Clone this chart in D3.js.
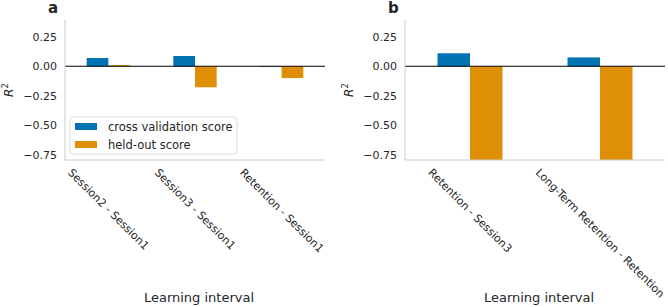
<!DOCTYPE html>
<html>
<head>
<meta charset="utf-8">
<script src="https://cdn.jsdelivr.net/npm/d3@7"></script>
<style>
  body { margin: 0; background: #fff; }
  text { font-family: "DejaVu Sans", sans-serif; fill: #262626; }
</style>
</head>
<body>
<svg width="668" height="307"></svg>
<script>
// panel a
var catsA = ['Session2 - Session1', 'Session3 - Session1', 'Retention - Session1'];
var cvA = [0.07, 0.087, -0.005];
var heldA = [0.01, -0.178, -0.10];

// panel b
var catsB = ['Retention - Session3', 'Long-Term Retention - Retention'];
var cvB = [0.11, 0.075];
var heldB = [-0.9, -0.9];

var yTicks = [0.25, 0, -0.25, -0.5, -0.75];
var seriesNames = ['cross validation score', 'held-out score'];
var colors = ['#0173b2', '#de8f05'];

var svg = d3.select('svg');

function drawPanel(id, left, right, letter, cats, cv, held, showLegend) {
    var top = 20, bottom = 160;
    var g = svg.append('g');

    var xScale = d3.scaleBand().domain(cats).range([left, right]);
    var yScale = d3.scaleLinear().domain([-0.794, 0.392]).range([bottom, top]);
    var bw = xScale.bandwidth() * 0.25;

    g.append('clipPath').attr('id', 'clip' + id)
        .append('rect').attr('x', left).attr('y', top)
        .attr('width', right - left).attr('height', bottom - top);

    var bars = g.append('g').attr('clip-path', 'url(#clip' + id + ')');
    [cv, held].forEach(function(vals, s) {
        bars.selectAll('.s' + s).data(vals).enter().append('rect')
            .attr('x', function(d, i) { return xScale(cats[i]) + xScale.bandwidth() / 2 - bw + s * bw; })
            .attr('y', function(d) { return yScale(Math.max(0, d)); })
            .attr('width', bw)
            .attr('height', function(d) { return Math.abs(yScale(d) - yScale(0)); })
            .style('fill', colors[s]);
    });

    // zero line
    g.append('line')
        .attr('x1', left).attr('x2', right)
        .attr('y1', yScale(0)).attr('y2', yScale(0))
        .style('stroke', '#000').style('stroke-width', 1.2);

    // y axis
    var yAxis = d3.axisLeft(yScale).tickValues(yTicks).tickSize(0).tickPadding(8)
        .tickFormat(function(d) { return d3.format('.2f')(d).replace('-', '\u2212'); });
    var ya = g.append('g').attr('transform', 'translate(' + left + ',0)').call(yAxis);
    ya.select('.domain').remove();
    ya.selectAll('text').style('font-size', '11px').style('fill', '#262626')
        .style('font-family', '"DejaVu Sans", sans-serif');
    g.append('line').attr('x1', left).attr('x2', left).attr('y1', top).attr('y2', bottom)
        .style('stroke', '#cccccc').style('stroke-width', 1);

    // x axis
    g.append('line').attr('x1', left).attr('x2', right).attr('y1', bottom).attr('y2', bottom)
        .style('stroke', '#cccccc').style('stroke-width', 1);

    cats.forEach(function(c) {
        var t = g.append('text').text(c).style('font-size', '11px')
            .attr('text-anchor', 'middle').attr('dominant-baseline', 'central');
        var L = t.node().getComputedTextLength();
        var cx = xScale(c) + xScale.bandwidth() / 2;
        var cy = 167 + (L + 11) * Math.SQRT1_2 / 2;
        t.attr('transform', 'translate(' + cx + ',' + cy + ') rotate(45)');
    });

    g.append('text').text('Learning interval')
        .attr('x', (left + right) / 2 + 4).attr('y', 302)
        .attr('text-anchor', 'middle').style('font-size', '13px');

    // y label
    var yl = g.append('text')
        .attr('transform', 'translate(' + (left - 52) + ',' + ((top + bottom) / 2) + ') rotate(-90)')
        .attr('text-anchor', 'middle').style('font-size', '12px');
    yl.append('tspan').text('R').style('font-style', 'italic');
    yl.append('tspan').text('2').attr('dy', -5).style('font-size', '8.5px');

    g.append('text').text(letter)
        .attr('x', left - 17).attr('y', 13)
        .style('font-size', '15px').style('font-weight', 'bold');

    if (showLegend) {
        var lg = g.append('g');
        lg.append('rect').attr('x', 70).attr('y', 117).attr('width', 167).attr('height', 37)
            .attr('rx', 3).style('fill', '#fff').style('stroke', '#dddddd');
        seriesNames.forEach(function(n, i) {
            lg.append('rect').attr('x', 75).attr('y', 123 + i * 18).attr('width', 22).attr('height', 7)
                .style('fill', colors[i]);
            lg.append('text').text(n).attr('x', 108).attr('y', 126.5 + i * 18)
                .attr('dominant-baseline', 'central').style('font-size', '11.5px');
        });
    }
}

drawPanel('a', 65, 325, 'a', catsA, cvA, heldA, true);
drawPanel('b', 405, 665, 'b', catsB, cvB, heldB, false);
</script>
</body>
</html>
